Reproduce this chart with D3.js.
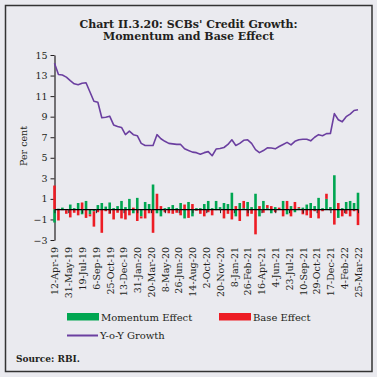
<!DOCTYPE html>
<html>
<head>
<meta charset="utf-8">
<script src="https://cdn.jsdelivr.net/npm/d3@7"></script>
<style>
  body { margin: 0; background: #eaeaef; }
  text { font-family: "DejaVu Serif", serif; fill: #231f20; }
</style>
</head>
<body>
<div id="chart"></div>
<script>
// fortnightly observations, 12-Apr-19 .. 25-Mar-22
const firstDate = "12-Apr-19";
const pointCount = 78;

const momentum = [
  -1.3, 0.05, 0.15, -0.1, 0.45, 0.1, 0.6, -0.5, 0.8, -0.5,
  -0.2, 0.4, 0.6, 0.25, 0.65, 0.1, 0.3, 0.8, 0.2, 1.0,
  -0.4, 1.1, -0.7, 0.7, 0.5, 2.4, -0.4, -0.7, 0.1, 0.2,
  0.4, 0.1, 0.6, -0.9, 0.7, -0.7, 0.1, 0.1, 0.5, 0.8,
  0.1, 0.8, 0.2, 0.6, 0.5, 1.6, -0.7, 0.6, 0.1, 0.7,
  0.2, 1.5, -0.7, 0.8, 0.1, -0.4, 0.2, 0.0, 0.8, -0.5,
  0.3, -0.3, 0.1, 0.15, 0.45, 0.6, 0.3, 1.1, 0.1, 1.0,
  0.2, 3.3, -0.85, 0.1, 0.7, 0.8, 0.6, 1.6
];

const baseEffect = [
  2.3, -1.1, -0.1, -0.35, -0.8, -0.35, -0.6, 0.65, -0.85, -0.2,
  -1.5, -0.3, -2.3, -0.2, -0.45, -1.0, -0.35, -0.9, -1.0, -0.6,
  0.15, -1.15, -0.2, -0.9, -0.4, -2.3, 1.5, 0.3, -0.3, -0.4,
  -0.45, -0.35, -0.6, 0.45, -0.85, 0.5, -0.15, -0.45, -0.7, -0.3,
  -0.6, -0.1, -0.1, -0.9, -0.45, -1.0, 0.3, -1.15, 0.7, -0.7,
  -0.45, -2.45, 0.3, -0.35, 0.3, 0.3, -0.3, 0.15, -0.7, 0.8,
  -0.7, 0.7, 0.1, -0.5, -0.6, -0.85, -0.2, -0.9, -0.2, 0.5,
  -0.1, -1.5, 0.6, -0.7, -0.45, -0.7, -0.2, -1.55
];

const yoyGrowth = [
  14.2, 13.1, 13.05, 12.85, 12.5, 12.2, 12.1, 12.25, 12.3, 11.4,
  10.5, 10.4, 8.9, 8.95, 9.05, 8.2, 8.05, 7.95, 7.25, 7.6,
  7.25, 7.15, 6.4, 6.2, 6.2, 6.2, 7.25, 6.85, 6.6, 6.4,
  6.35, 6.3, 6.3, 5.87, 5.7, 5.55, 5.5, 5.35, 5.5, 5.6,
  5.2, 5.85, 5.9, 6.0, 6.3, 6.75, 6.2, 6.4, 6.7, 6.75,
  6.4, 5.8, 5.5, 5.7, 5.97, 5.95, 5.87, 6.1, 6.3, 6.5,
  6.25, 6.6, 6.75, 6.8, 6.8, 6.65, 7.0, 7.25, 7.15, 7.35,
  7.36, 9.3, 8.7, 8.5, 9.0, 9.25, 9.6, 9.68
];

const tickLabels = [
  "12-Apr-19", "31-May-19", "19-Jul-19", "6-Sep-19", "25-Oct-19", "13-Dec-19",
  "31-Jan-20", "20-Mar-20", "8-May-20", "26-Jun-20", "14-Aug-20", "2-Oct-20",
  "20-Nov-20", "8-Jan-21", "26-Feb-21", "16-Apr-21", "4-Jun-21", "23-Jul-21",
  "10-Sep-21", "29-Oct-21", "17-Dec-21", "4-Feb-22", "25-Mar-22"
];

const yTicks = [-3, -1, 1, 3, 5, 7, 9, 11, 13, 15];

const colors = { momentum: "#00a651", base: "#ed1c24", yoy: "#6b3fa0" };

const width = 377, height = 377;
const margin = { left: 54.5, right: 358, top: 55, bottom: 240 };

const parse = d3.timeParse("%d-%b-%y");
const start = parse(firstDate);
const dates = d3.range(pointCount).map(i => d3.timeDay.offset(start, 14 * i));
const tickDates = tickLabels.map(parse);

const data = dates.map((d, i) => ({
  date: d, momentum: momentum[i], base: baseEffect[i], yoy: yoyGrowth[i]
}));

const svg = d3.select("#chart").append("svg")
  .attr("width", width)
  .attr("height", height);

svg.append("rect")
  .attr("x", 5.5).attr("y", 5.5)
  .attr("width", 366.5).attr("height", 366)
  .attr("fill", "#eaeaef")
  .attr("stroke", "#333")
  .attr("stroke-width", 1.5);

// title
const title = svg.append("text")
  .attr("text-anchor", "middle")
  .style("font-size", "11px")
  .style("font-weight", "bold");
title.append("tspan").attr("x", 188.5).attr("y", 27.5).text("Chart II.3.20: SCBs' Credit Growth:");
title.append("tspan").attr("x", 188.5).attr("y", 40).text("Momentum and Base Effect");

const x = d3.scaleTime()
  .domain([dates[0], dates[dates.length - 1]])
  .range([margin.left, margin.right]);

const y = d3.scaleLinear()
  .domain([-3, 15])
  .range([margin.bottom, margin.top]);

// y axis
const yAxis = svg.append("g")
  .attr("transform", `translate(${margin.left},0)`)
  .call(d3.axisLeft(y).tickValues(yTicks).tickSize(4).tickSizeOuter(0).tickPadding(3));
yAxis.select(".domain").attr("stroke", "#231f20").attr("stroke-width", 1.2);
yAxis.selectAll(".tick line").attr("stroke", "#231f20");
yAxis.selectAll("text")
  .style("font-family", "DejaVu Serif")
  .style("font-size", "9.5px")
  .attr("fill", "#231f20");

svg.append("text")
  .attr("transform", `translate(27,146) rotate(-90)`)
  .attr("text-anchor", "middle")
  .style("font-size", "9.5px")
  .text("Per cent");

// stacked bars
const stack = d3.stack()
  .keys(["momentum", "base"])
  .offset(d3.stackOffsetDiverging);
const series = stack(data);
const barW = 2.6;

svg.append("g")
  .selectAll("g")
  .data(series)
  .join("g")
  .attr("fill", s => colors[s.key])
  .selectAll("rect")
  .data(s => s)
  .join("rect")
  .attr("x", d => x(d.data.date) - barW / 2)
  .attr("y", d => y(Math.max(d[0], d[1])))
  .attr("width", barW)
  .attr("height", d => Math.abs(y(d[0]) - y(d[1])));

// zero line with ticks
const xAxis = svg.append("g")
  .attr("transform", `translate(0,${y(0)})`)
  .call(d3.axisBottom(x).tickValues(tickDates).tickSize(4).tickSizeOuter(0).tickFormat(""));
xAxis.select(".domain").attr("stroke", "#000").attr("stroke-width", 1.2);
xAxis.selectAll(".tick line").attr("stroke", "#231f20");

// date labels
const xLabels = svg.append("g")
  .attr("transform", `translate(0,247)`)
  .call(d3.axisBottom(x).tickValues(tickDates).tickSize(0).tickFormat(d3.timeFormat("%-d-%b-%y")));
xLabels.select(".domain").remove();
xLabels.selectAll("text")
  .attr("x", 0).attr("y", 0).attr("dy", "0.35em")
  .attr("transform", "rotate(-90)")
  .style("text-anchor", "end")
  .style("font-family", "DejaVu Serif")
  .style("font-size", "9.5px")
  .attr("fill", "#231f20");

// yoy line
svg.append("path")
  .datum(data)
  .attr("fill", "none")
  .attr("stroke", colors.yoy)
  .attr("stroke-width", 1.6)
  .attr("stroke-linejoin", "round")
  .attr("d", d3.line().x(d => x(d.date)).y(d => y(d.yoy)));

// legend
const legend = svg.append("g").style("font-size", "10px");
legend.append("rect").attr("x", 67).attr("y", 313).attr("width", 32).attr("height", 7.5).attr("fill", colors.momentum);
legend.append("text").attr("x", 101).attr("y", 320.5).text("Momentum Effect");
legend.append("rect").attr("x", 219).attr("y", 313).attr("width", 32).attr("height", 7.5).attr("fill", colors.base);
legend.append("text").attr("x", 253).attr("y", 320.5).text("Base Effect");
legend.append("line").attr("x1", 67).attr("x2", 98).attr("y1", 335.5).attr("y2", 335.5)
  .attr("stroke", colors.yoy).attr("stroke-width", 2);
legend.append("text").attr("x", 100).attr("y", 339).text("Y-o-Y Growth");

svg.append("text")
  .attr("x", 16).attr("y", 362)
  .style("font-size", "9px")
  .style("font-weight", "bold")
  .text("Source: RBI.");
</script>
</body>
</html>
